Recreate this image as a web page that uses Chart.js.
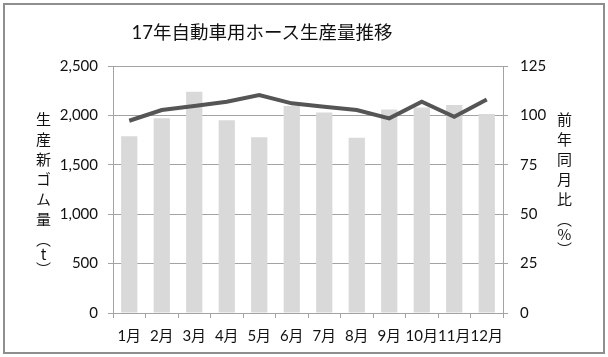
<!DOCTYPE html>
<html>
<head>
<meta charset="utf-8">
<script src="https://cdn.jsdelivr.net/npm/chart.js@4"></script>
<style>
  html, body { margin: 0; padding: 0; background: #fff; }
  #wrap { position: relative; width: 608px; height: 357px; overflow: hidden; background: #fff; }
  #frame { position: absolute; left: 3px; top: 3px; width: 598px; height: 347px; border: 2px solid #8e8e8e; }
  canvas { position: absolute; left: 0; top: 0; }
  #title { position: absolute; left: 0; width: 524px; top: 18px; text-align: center;
    font: 18.5px Lato, "Noto Sans CJK JP", sans-serif; color: #111; white-space: nowrap; }
  .vt { position: absolute; writing-mode: vertical-rl; text-orientation: upright;
    font: 15px Lato, "Noto Sans CJK JP", sans-serif; color: #111; line-height: 15px; }
  .sp { letter-spacing: 5px; }
  .pp { text-orientation: mixed; font-family: "Noto Sans CJK JP", sans-serif; letter-spacing: 0px; }
  .up { text-orientation: upright; letter-spacing: 0px; }
</style>
</head>
<body>
<div id="wrap">
  <div id="frame"></div>
  <canvas id="c" width="608" height="357"></canvas>
  <div id="title">17年自動車用ホース生産量推移</div>
  <div class="vt" id="ytl" style="left:35px; top:112px;"><span class="sp">生産新ゴム量</span><span class="pp">（<span class="up">t</span>）</span></div>
  <div class="vt" id="ytr" style="left:556px; top:112px;"><span class="sp">前年同月比</span><span class="pp">（<span class="up">%</span>）</span></div>
</div>
<script>
const months = ['1月','2月','3月','4月','5月','6月','7月','8月','9月','10月','11月','12月'];
const production = [1790, 1970, 2240, 1950, 1780, 2095, 2030, 1775, 2060, 2080, 2105, 2015];
const yoyRatio = [97.3, 102.7, 104.8, 106.9, 110.3, 106.1, 104.4, 102.7, 98.5, 106.9, 99.3, 108.1];
const leftTicks = [0, 500, 1000, 1500, 2000, 2500];
const rightTicks = [0, 25, 50, 75, 100, 125];

const tickFont = { family: 'Lato, "Noto Sans CJK JP", sans-serif', size: 15 };
const gridColor = '#a3a3a3';

new Chart(document.getElementById('c'), {
  data: {
    labels: months,
    datasets: [
      { type: 'line', label: '前年同月比', data: yoyRatio, yAxisID: 'y2', order: 0,
        borderColor: '#555555', borderWidth: 4, pointRadius: 0, tension: 0, fill: false },
      { type: 'bar', label: '生産新ゴム量', data: production, yAxisID: 'y', order: 1,
        backgroundColor: '#d9d9d9', barPercentage: 0.5, categoryPercentage: 1.0 }
    ]
  },
  options: {
    responsive: false,
    animation: false,
    devicePixelRatio: 1,
    layout: { padding: { top: 66, left: 0, right: 0, bottom: 0 } },
    plugins: { legend: { display: false }, tooltip: { enabled: false }, title: { display: false } },
    scales: {
      x: {
        offset: true,
        grid: { display: true, drawOnChartArea: false, drawTicks: true, tickLength: 5, color: gridColor, offset: true },
        border: { display: true, color: gridColor, width: 1 },
        ticks: { color: '#111', font: tickFont, padding: 9, maxRotation: 0, autoSkip: false },
        afterFit: (s) => { s.height = 357 - 313; }
      },
      y: {
        position: 'left', min: 0, max: 2500,
        afterBuildTicks: (s) => { s.ticks = leftTicks.map(v => ({ value: v })); },
        grid: { color: gridColor, drawTicks: true, tickLength: 5 },
        border: { display: true, color: gridColor, width: 1 },
        ticks: { color: '#111', font: tickFont, padding: 10,
          callback: (v) => Number(v).toLocaleString('en-US') },
        afterFit: (s) => { s.width = 113; }
      },
      y2: {
        position: 'right', min: 0, max: 125,
        afterBuildTicks: (s) => { s.ticks = rightTicks.map(v => ({ value: v })); },
        grid: { drawOnChartArea: false, color: gridColor, drawTicks: true, tickLength: 5 },
        border: { display: true, color: gridColor, width: 1 },
        ticks: { color: '#111', font: tickFont, padding: 12 },
        afterFit: (s) => { s.width = 608 - 503; }
      }
    }
  }
});
</script>
</body>
</html>
